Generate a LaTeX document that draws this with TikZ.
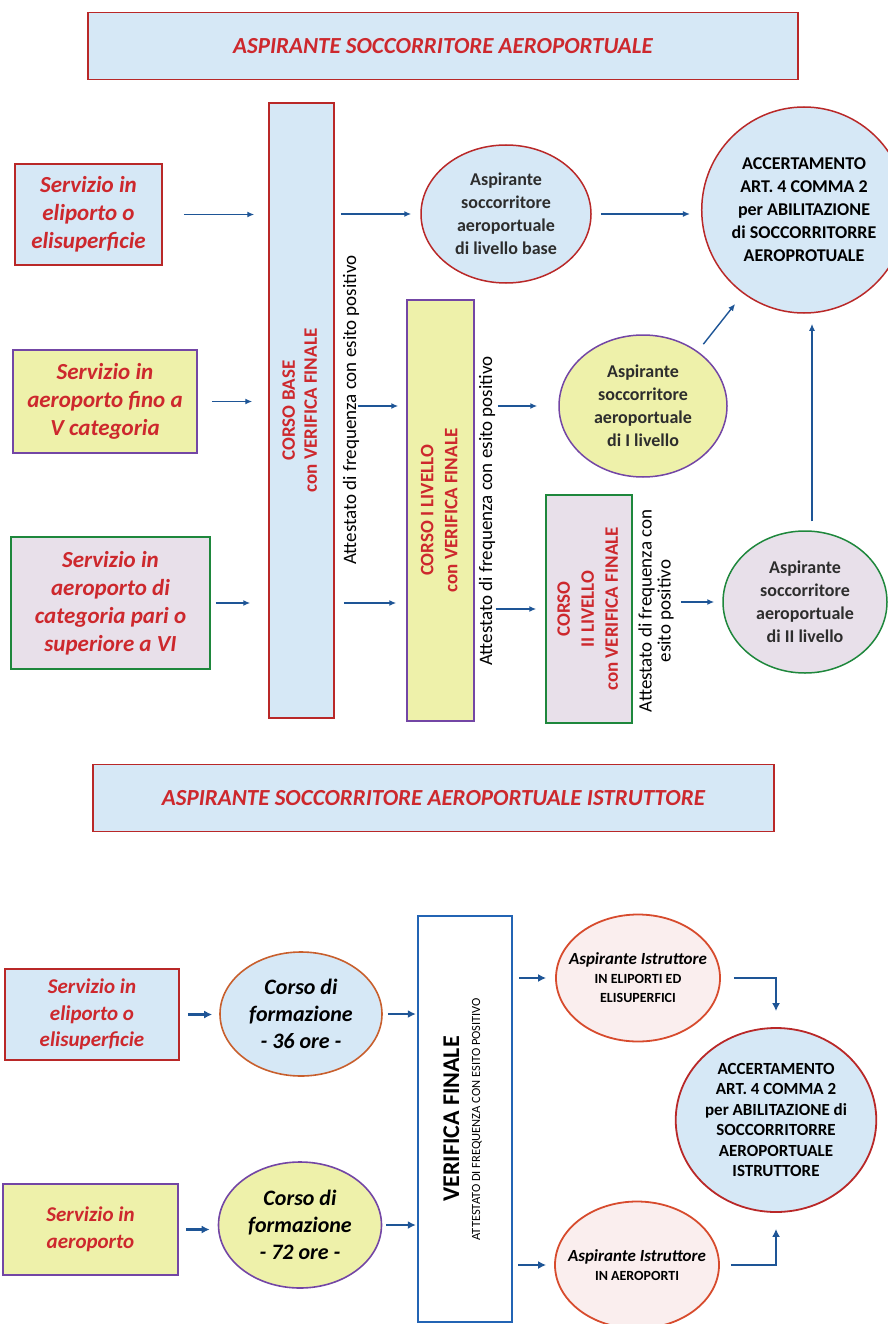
\documentclass[tikz,border=0pt]{standalone}
\usepackage{fontspec}
\setmainfont{Carlito}
\usepackage{graphicx}
\usetikzlibrary{arrows.meta}
\usetikzlibrary{shapes.geometric}

\definecolor{bordorosso}{RGB}{185,40,40}
\definecolor{testorosso}{RGB}{205,40,45}
\definecolor{celeste}{RGB}{214,232,246}
\definecolor{giallino}{RGB}{238,241,170}
\definecolor{malva}{RGB}{232,224,234}
\definecolor{viola}{RGB}{115,70,165}
\definecolor{verde}{RGB}{30,135,60}
\definecolor{blufreccia}{RGB}{30,85,150}
\definecolor{bluverifica}{RGB}{35,100,180}
\definecolor{rosino}{RGB}{250,238,238}
\definecolor{arancio}{RGB}{215,75,45}
\definecolor{ruggine}{RGB}{200,95,45}
\definecolor{grigioscuro}{RGB}{45,45,45}

\newcommand{\verticale}[1]{\rotatebox{90}{\begin{tabular}{@{}c@{}}#1\end{tabular}}}

\begin{document}
\begin{tikzpicture}[x=1pt, y=-1pt,
        titolo/.style={rectangle, draw=bordorosso, fill=celeste, line width=1.6pt, inner sep=0pt, minimum height=67pt, text=testorosso, font=\fontsize{23}{26}\selectfont\bfseries\itshape},
        servizio/.style={rectangle, draw, line width=1.5pt, inner sep=0pt, align=center, text=testorosso, font=\fontsize{23}{28}\selectfont\bfseries\itshape},
        corso/.style={rectangle, draw, line width=1.5pt, inner sep=0pt, text=testorosso, font=\fontsize{19}{22}\selectfont\bfseries},
        aspirante/.style={ellipse, draw, line width=1.5pt, inner sep=0pt, align=center, text=grigioscuro, font=\fontsize{18}{23}\selectfont\bfseries},
        attestato/.style={rotate=90, align=center, inner sep=0pt, font=\fontsize{19}{19}\selectfont},
        formazione/.style={ellipse, draw, line width=1.6pt, inner sep=0pt, align=center, font=\fontsize{22}{27}\selectfont\bfseries\itshape},
        verifica/.style={rectangle, draw=bluverifica, fill=white, line width=2.4pt, inner sep=0pt, font=\fontsize{12.5}{21}\selectfont},
        istruttore/.style={ellipse, draw=arancio, fill=rosino, line width=1.8pt, inner xsep=-20pt, inner ysep=0pt, align=center, font=\fontsize{14}{19}\selectfont\bfseries},
        accertamento/.style={ellipse, draw=bordorosso, fill=celeste, line width=1.8pt, inner sep=0pt, align=center, font=\fontsize{17}{20.5}\selectfont\bfseries},
        freccia/.style={-{Latex[length=7pt,width=6pt]}, line width=1.4pt, color=blufreccia},
        freccia grossa/.style={-{Latex[length=8pt,width=8pt]}, line width=2.2pt, color=blufreccia}]
    \useasboundingbox (0,0) rectangle (887,1324);

    \node[titolo, minimum width=710pt] (tit_1) at (443,46) {ASPIRANTE SOCCORRITORE AEROPORTUALE};

    \node[servizio, draw=bordorosso, fill=celeste, minimum width=147pt, minimum height=101pt] (s_1) at (88.5,214.5) {Servizio in\\eliporto o\\elisuperficie};
    \node[servizio, draw=viola, fill=giallino, minimum width=184pt, minimum height=103pt] (s_2) at (105,401.5) {Servizio in\\aeroporto fino a\\V categoria};
    \node[servizio, draw=verde, fill=malva, minimum width=199pt, minimum height=132pt] (s_3) at (110.5,603) {Servizio in\\aeroporto di\\categoria pari o\\superiore a VI};

    \node[corso, draw=bordorosso, fill=celeste, minimum width=65pt, minimum height=615pt] (c_base) at (301.5,410.5) {\verticale{CORSO BASE\\con VERIFICA FINALE}};
    \node[corso, draw=viola, fill=giallino, minimum width=67pt, minimum height=421pt, font=\fontsize{19}{24}\selectfont\bfseries] (c_1) at (440.5,510.5) {\verticale{CORSO I LIVELLO\\con VERIFICA FINALE}};
    \node[corso, draw=verde, fill=malva, minimum width=86pt, minimum height=228pt, font=\fontsize{19}{24}\selectfont\bfseries] (c_2) at (589,609) {\verticale{CORSO\\II LIVELLO\\con VERIFICA FINALE}};

    \node[attestato] (att_1) at (351,410) {Attestato di frequenza con esito positivo};
    \node[attestato] (att_2) at (487,511) {Attestato di frequenza con esito positivo};
    \node[attestato] (att_3) at (656,611) {Attestato di frequenza con\\esito positivo};

    \node[aspirante, draw=bordorosso, fill=celeste, minimum width=170pt, minimum height=138pt] (e_base) at (506,214) {Aspirante\\soccorritore\\aeroportuale\\di livello base};
    \node[aspirante, draw=viola, fill=giallino, minimum width=168pt, minimum height=142pt] (e_1) at (643,406) {Aspirante\\soccorritore\\aeroportuale\\di I livello};
    \node[aspirante, draw=verde, fill=malva, minimum width=164pt, minimum height=142pt] (e_2) at (805,602) {Aspirante\\soccorritore\\aeroportuale\\di II livello};
    \node[aspirante, draw=bordorosso, fill=celeste, text=black, minimum width=166pt, minimum height=206pt] (acc_1) at (804,210) {ACCERTAMENTO\\ART. 4 COMMA 2\\per ABILITAZIONE\\di SOCCORRITORRE\\AEROPROTUALE};

    \path[freccia]
        (s_1.east) edge[shorten <=21pt, shorten >=14pt] (s_1.east -| c_base.west)
        (s_2.east) edge[shorten <=14pt, shorten >=16pt] (s_2.east -| c_base.west)
        (s_3.east) edge[shorten <=5pt, shorten >=18pt] (s_3.east -| c_base.west)
        (c_base.east |- e_base.west) edge[shorten <=6pt, shorten >=9pt] (e_base.west)
        (c_base.east |- e_1.west) edge[shorten <=23pt, shorten >=8pt] (c_1.west |- e_1.west)
        (c_base.east |- s_3.east) edge[shorten <=9pt, shorten >=10pt] (c_1.west |- s_3.east)
        (e_base.east) edge[shorten <=9pt, shorten >=11pt] (e_base.east -| acc_1.west)
        (c_1.east |- e_1.west) edge[shorten <=23pt, shorten >=21pt] (e_1.west)
        (c_1.east |- c_2.west) edge[shorten <=21pt, shorten >=9pt] (c_2.west)
        (c_2.east |- e_2.west) edge[shorten <=48pt, shorten >=8pt] (e_2.west)
        (e_1.45) edge[shorten <=9pt, shorten >=13pt] (acc_1.234)
        ([xshift=7pt]e_2.north) edge[shorten <=9pt, shorten >=10pt] ([xshift=7pt]e_2.north |- acc_1.south);

    \node[titolo, minimum width=681pt] (tit_2) at (433.5,798) {ASPIRANTE SOCCORRITORE AEROPORTUALE ISTRUTTORE};

    \node[servizio, draw=bordorosso, fill=celeste, minimum width=174pt, minimum height=91pt, font=\fontsize{21}{26.5}\selectfont\bfseries\itshape] (t_1) at (92,1014.5) {Servizio in\\eliporto o\\elisuperficie};
    \node[servizio, draw=viola, fill=giallino, minimum width=175pt, minimum height=91pt, font=\fontsize{21}{26.5}\selectfont\bfseries\itshape] (t_2) at (90.5,1229.5) {Servizio in\\aeroporto};

    \node[formazione, draw=ruggine, fill=celeste, minimum width=162pt, minimum height=124pt] (f_36) at (301,1014) {Corso di\\formazione\\- 36 ore -};
    \node[formazione, draw=viola, fill=giallino, minimum width=163pt, minimum height=126pt] (f_72) at (300,1225) {Corso di\\formazione\\- 72 ore -};

    \node[verifica, minimum width=94pt, minimum height=406pt] (ver) at (465,1119) {\verticale{{\fontsize{24}{24}\selectfont\bfseries VERIFICA FINALE}\\ATTESTATO DI FREQUENZA CON ESITO POSITIVO}};

    \node[istruttore, minimum width=164pt, minimum height=127pt] (i_1) at (638,978) {{\fontsize{17}{19}\selectfont\itshape Aspirante Istruttore}\\IN ELIPORTI ED\\ELISUPERFICI};
    \node[istruttore, minimum width=164pt, minimum height=127pt] (i_2) at (637,1265) {{\fontsize{17}{19}\selectfont\itshape Aspirante Istruttore}\\IN AEROPORTI};
    \node[accertamento, minimum width=176pt, minimum height=184pt] (acc_2) at (776,1120) {ACCERTAMENTO\\ART. 4 COMMA 2\\per ABILITAZIONE di\\SOCCORRITORRE\\AEROPORTUALE\\ISTRUTTORE};

    \path[freccia grossa]
        (t_1.east) edge[shorten <=8pt, shorten >=7pt] (t_1.east -| f_36.west)
        (f_36.east) edge[shorten <=5pt, shorten >=1pt] (f_36.east -| ver.west)
        (t_2.east) edge[shorten <=7pt, shorten >=8pt] (t_2.east -| f_72.west)
        (f_72.east) edge[shorten <=4pt, shorten >=1pt] (f_72.east -| ver.west)
        (ver.east |- i_1.west) edge[shorten <=6pt, shorten >=9pt] (i_1.west)
        (ver.east |- i_2.west) edge[shorten <=5pt, shorten >=8pt] (i_2.west);
    \draw[freccia grossa, shorten <=13pt, shorten >=16pt] (i_1.east) -| (acc_2.north);
    \draw[freccia grossa, shorten <=11pt, shorten >=16pt] (i_2.east) -| (acc_2.south);
\end{tikzpicture}
\end{document}
